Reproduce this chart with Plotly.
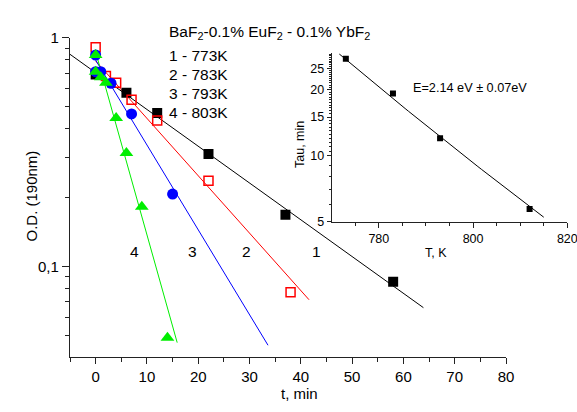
import numpy as np
import plotly.graph_objects as go

# O.D. at 190 nm vs annealing time for four temperatures
t1 = [0, 6, 12, 22, 37, 58]
od1 = [0.69, 0.575, 0.468, 0.310, 0.168, 0.0857]
t2 = [0, 2, 4, 7, 12, 22, 38]
od2 = [0.908, 0.68, 0.636, 0.535, 0.434, 0.237, 0.077]
t3 = [0, 0, 1, 3, 7, 15]
od3 = [0.84, 0.71, 0.71, 0.632, 0.464, 0.207]
t4 = [0, 0, 1, 2, 4, 6, 9, 14]
od4 = [0.84, 0.71, 0.672, 0.636, 0.445, 0.313, 0.182, 0.0487]

# exponential fits OD = OD0 * exp(-t / tau)
fit_od0 = [0.703, 0.791, 0.798, 0.867]
fit_tau = [27.0, 17.3, 11.7, 5.43]
fit_t_start = [-5, 0, 0, 0]
fit_t_end = [63.9, 41.6, 33.6, 15.9]

curve_names = ["1", "2", "3", "4"]
curve_temps = ["773K", "783K", "793K", "803K"]
curve_colors = ["#000000", "#ff0000", "#0000ff", "#00ee00"]
curve_label_t = [43.1, 29.4, 18.9, 7.66]
curve_label_od = 0.1163

# decay time vs temperature (inset) and Arrhenius fit
inset_T = [773, 783, 793, 812]
inset_tau = [27.7, 19.2, 12.0, 5.71]
E_act = 2.14        # eV
k_B = 8.617e-5      # eV/K
arr_T_range = [771.6, 815.0]
arr_tau_ref = 29.1  # tau at arr_T_range[0]

W, H = 577, 412
FONT = "Liberation Sans, Arial, sans-serif"
AX = "#222222"

fig = go.Figure()

# fitted decay lines
for i in range(4):
    tt = np.linspace(fit_t_start[i], fit_t_end[i], 50)
    fig.add_trace(go.Scatter(
        x=tt, y=fit_od0[i] * np.exp(-tt / fit_tau[i]), mode="lines",
        line=dict(color=curve_colors[i], width=1), hoverinfo="skip"))

# measured points
fig.add_trace(go.Scatter(x=t1, y=od1, mode="markers",
                         marker=dict(symbol="square", size=10, color="#000000")))
fig.add_trace(go.Scatter(x=t2, y=od2, mode="markers",
                         marker=dict(symbol="square-open", size=9, color="#ff0000",
                                     line=dict(width=1.5, color="#ff0000"))))
fig.add_trace(go.Scatter(x=t3, y=od3, mode="markers",
                         marker=dict(symbol="circle", size=11, color="#0000ff")))
fig.add_trace(go.Scatter(x=t4, y=od4, mode="markers",
                         marker=dict(symbol="triangle-up", size=12, color="#00ee00")))

# inset: Arrhenius line and points
TT = np.linspace(arr_T_range[0], arr_T_range[1], 60)
tau_fit = arr_tau_ref * np.exp(E_act / k_B * (1 / TT - 1 / arr_T_range[0]))
fig.add_trace(go.Scatter(x=TT, y=tau_fit, mode="lines", xaxis="x2", yaxis="y2",
                         line=dict(color="#000000", width=1)))
fig.add_trace(go.Scatter(x=inset_T, y=inset_tau, mode="markers", xaxis="x2", yaxis="y2",
                         marker=dict(symbol="square", size=6, color="#000000")))


def px_x(p):
    return p / W


def px_y(p):
    return 1 - p / H


main_x_dom = [px_x(70), px_x(506)]
main_y_dom = [px_y(357.3), px_y(37.7)]
ins_x_dom = [px_x(331.7), px_x(567.3)]
ins_y_dom = [px_y(221.7), px_y(53.3)]

common = dict(showgrid=False, zeroline=False, showline=True, linecolor=AX,
              linewidth=1.2, ticks="outside", tickwidth=1, tickcolor=AX,
              automargin=False, ticklabeloverflow="allow")

fig.update_layout(
    width=W, height=H, margin=dict(l=0, r=0, t=0, b=0, autoexpand=False),
    paper_bgcolor="white", plot_bgcolor="white", showlegend=False,
    font=dict(family=FONT, color="#000000"),
    xaxis=dict(domain=main_x_dom, range=[-5, 80], ticklen=6,
               tickvals=list(range(0, 81, 10)), tickfont=dict(size=15),
               minor=dict(ticks="outside", ticklen=4, tickwidth=1, tickcolor=AX,
                          tickvals=list(range(-5, 80, 10))),
               anchor="y", **common),
    yaxis=dict(domain=main_y_dom, type="log", range=[np.log10(0.04), 0], ticklen=7,
               tickvals=[0.1, 1], ticktext=["0,1", "1"], tickfont=dict(size=15),
               minor=dict(ticks="outside", ticklen=4, tickwidth=1, tickcolor=AX,
                          tickvals=[0.05, 0.06, 0.07, 0.08, 0.09,
                                    0.2, 0.3, 0.4, 0.5, 0.6, 0.7, 0.8, 0.9]),
               anchor="x", **common),
    xaxis2=dict(domain=ins_x_dom, range=[770, 820], ticklen=5,
                tickvals=[780, 800, 820], tickfont=dict(size=12.5),
                minor=dict(ticks="outside", ticklen=3, tickwidth=1, tickcolor=AX,
                           tickvals=[775, 785, 790, 795, 805, 810, 815]),
                anchor="y2", **common),
    yaxis2=dict(domain=ins_y_dom, type="log", range=[np.log10(5), np.log10(29.3)],
                ticklen=4, tickvals=[5, 10, 15, 20, 25], tickfont=dict(size=12.5),
                minor=dict(ticks="outside", ticklen=2, tickwidth=1, tickcolor=AX,
                           tickvals=[6, 7, 8, 9] + [v / 2 for v in range(21, 59)
                                                    if v % 10 != 0]),
                anchor="x2", **common),
)

ann = []
# axis titles
ann.append(dict(x=px_x(299), y=px_y(404), text="t, min", font=dict(size=15)))
ann.append(dict(x=px_x(20), y=px_y(196), text="O.D. (190nm)", textangle=-90,
                font=dict(size=15)))
ann.append(dict(x=px_x(449), y=px_y(253), text="T, K", font=dict(size=12.5)))
ann.append(dict(x=px_x(300), y=px_y(145), text="Tau, min", textangle=-90,
                font=dict(size=12.5)))
ann.append(dict(x=px_x(411), y=px_y(79), xanchor="left",
                text=f"E={E_act:.2f} eV \u00b1 0.07eV", font=dict(size=12.7)))
# sample composition and temperature key
ann.append(dict(x=px_x(167), y=px_y(20.5), xanchor="left",
                text="BaF<sub>2</sub>-0.1% EuF<sub>2</sub> - 0.1% YbF<sub>2</sub>",
                font=dict(size=15.5)))
for i, yy in enumerate([44.5, 63.5, 83, 102]):
    ann.append(dict(x=px_x(167), y=px_y(yy), xanchor="left",
                    text=f"{curve_names[i]} - {curve_temps[i]}", font=dict(size=15.5)))
for a in ann:
    a.update(xref="paper", yref="paper", showarrow=False)
# curve numbers next to the fit lines
for i in range(4):
    ann.append(dict(x=curve_label_t[i], y=np.log10(curve_label_od), xref="x", yref="y",
                    text=curve_names[i], showarrow=False, font=dict(size=15.5)))
fig.update_layout(annotations=ann)

fig.write_html("out.html")
